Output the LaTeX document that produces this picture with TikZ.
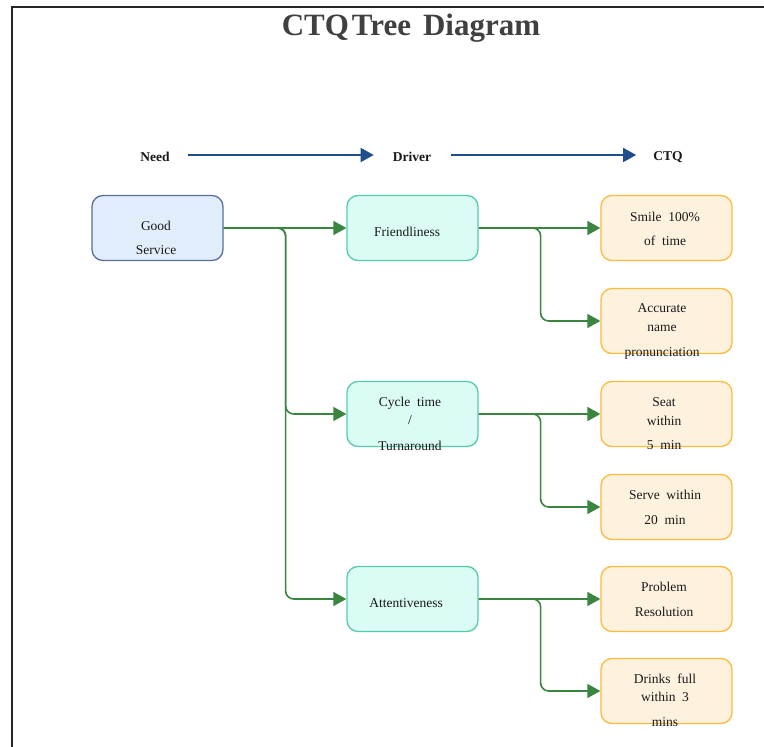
\documentclass[tikz,border=0pt]{standalone}
\usepackage{fontspec}
\setmainfont{Liberation Serif}[WordSpace=2]
\newfontfamily\titlefont{Liberation Serif}
\usetikzlibrary{arrows.meta}
\definecolor{needfill}{HTML}{E2EDFC}
\definecolor{needdraw}{HTML}{56709A}
\definecolor{drvfill}{HTML}{DAFCF4}
\definecolor{drvdraw}{HTML}{55CBAE}
\definecolor{ctqfill}{HTML}{FEF2DF}
\definecolor{ctqdraw}{HTML}{FDBB3A}
\definecolor{conncol}{HTML}{3A8540}
\definecolor{flowcol}{HTML}{1F4E8C}
\definecolor{titlecol}{HTML}{404040}
\begin{document}
\begin{tikzpicture}[x=1pt,y=-1pt,
 box/.style={draw, rounded corners=11pt, minimum width=131pt, minimum height=65pt, inner sep=0pt, line width=1.3pt},
 needbox/.style={box, draw=needdraw, fill=needfill},
 drvbox/.style={box, draw=drvdraw, fill=drvfill},
 ctqbox/.style={box, draw=ctqdraw, fill=ctqfill},
 txt/.style={align=center, inner sep=0pt, font=\fontsize{13.5}{24}\selectfont, text=black!90},
 hdr/.style={inner sep=0pt, font=\fontsize{13.5}{16}\selectfont\bfseries, text=black!90},
 conn/.style={draw=conncol, line width=1.6pt, rounded corners=8pt, -{Triangle[length=13pt,width=14pt]}},
 flow/.style={draw=flowcol, line width=1.6pt, -{Triangle[length=13pt,width=14pt]}}]
\useasboundingbox (0,0) rectangle (764,747);
\fill[white] (0,0) rectangle (764,747);
\draw[line width=2pt, black!85] (12,747) -- (12,7) -- (764,7);

\node[font=\titlefont\fontsize{31}{34}\selectfont\bfseries, text=titlecol, anchor=base, inner sep=0pt] (title) at (411,35) {CTQ\hspace{3pt}Tree\hspace{12pt}Diagram};

\node[hdr] (nd) at (155,157) {Need};
\node[hdr] (dv) at (412,157) {Driver};
\node[hdr] (cq) at (668,157) {CTQ};
\draw[flow, shorten <=18pt, shorten >=19pt] ([yshift=2pt]nd.east) -- ([yshift=2pt]dv.west);
\draw[flow, shorten <=20pt, shorten >=17pt] ([yshift=2pt]dv.east) -- ([yshift=2pt]cq.west);

\node[needbox] (gs) at (157.5,228) {};
\node[drvbox] (fr) at (412.5,228) {};
\node[drvbox] (cy) at (412.5,414) {};
\node[drvbox] (att) at (412.5,599) {};
\node[ctqbox] (sm) at (666.5,228) {};
\node[ctqbox] (ac) at (666.5,321) {};
\node[ctqbox] (se) at (666.5,414) {};
\node[ctqbox] (sv) at (666.5,507) {};
\node[ctqbox] (pr) at (666.5,599) {};
\node[ctqbox] (dr) at (666.5,691) {};

\node[txt] (gsT) at (156,238) {Good\\Service};
\node[txt] (frT) at (407,232) {Friendliness};
\node[txt] (cyT) at (410,424) {Cycle time\\[-6pt]/\\[2pt]Turnaround};
\node[txt] (attT) at (406,603) {Attentiveness};
\node[txt] (smT) at (665,229) {Smile 100\%\\of time};
\node[txt] (acT) at (662,331) {Accurate\\[-5pt]name\\[1pt]pronunciation};
\node[txt] (seT) at (664,423.5) {Seat\\[-5pt]within\\[0pt]5 min};
\node[txt] (svT) at (665,507.5) {Serve within\\[1pt]20 min};
\node[txt] (prT) at (664,599.5) {Problem\\[1pt]Resolution};
\node[txt] (drT) at (665,700.5) {Drinks full\\[-6pt]within 3\\[1pt]mins};

\draw[conn] (gs.east) -- (fr.west);
\draw[conn] (gs.east) -- ++(62,0) |- (cy.west);
\draw[conn] (gs.east) -- ++(62,0) |- (att.west);
\draw[conn] (fr.east) -- (sm.west);
\draw[conn] (fr.east) -- ++(62,0) |- (ac.west);
\draw[conn] (cy.east) -- (se.west);
\draw[conn] (cy.east) -- ++(62,0) |- (sv.west);
\draw[conn] (att.east) -- (pr.west);
\draw[conn] (att.east) -- ++(62,0) |- (dr.west);
\end{tikzpicture}
\end{document}
